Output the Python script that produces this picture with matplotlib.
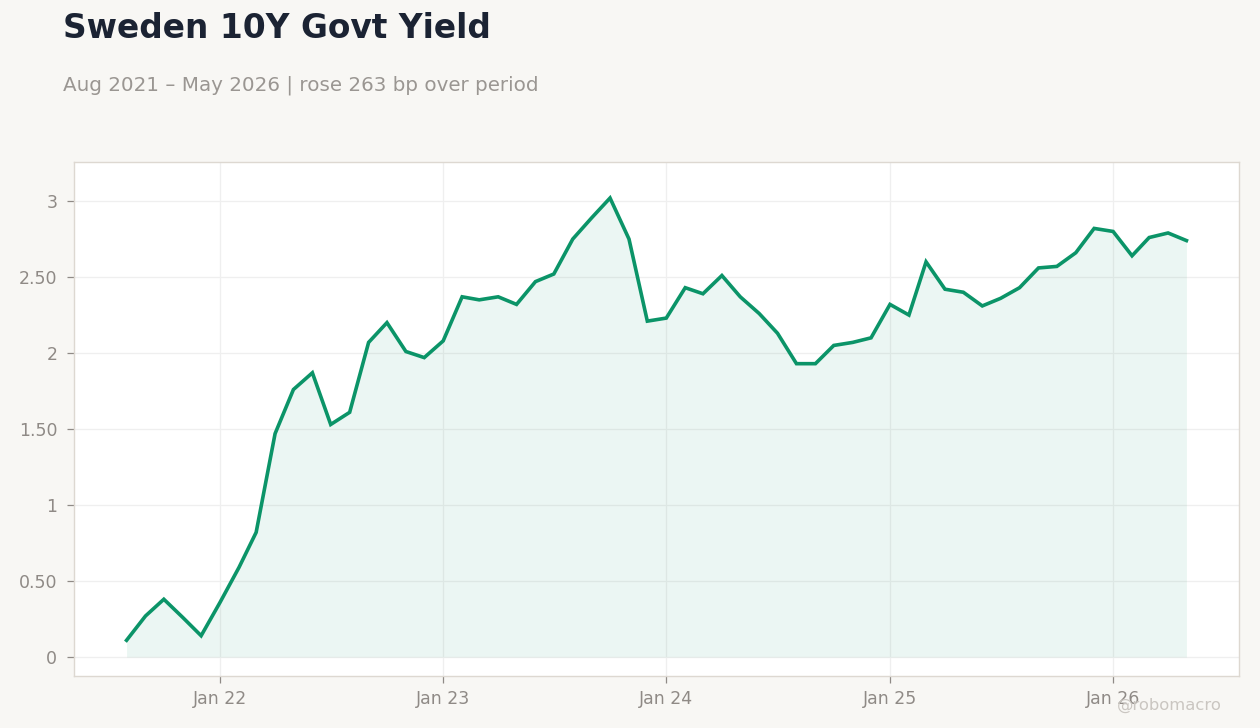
"""
Sweden 10Y government bond yield, monthly
"""

import datetime as dt

import numpy as np
import matplotlib
matplotlib.use("Agg")
import matplotlib.pyplot as plt
import matplotlib.dates as mdates
from matplotlib.ticker import FixedLocator, FixedFormatter

plt.rcParams["font.family"] = ["DejaVu Sans"]

# Monthly observations, Aug 2021 .. May 2026
start_year, start_month = 2021, 8
yields = [
    0.11, 0.27, 0.38, 0.26, 0.14,              # Aug-Dec 2021
    0.36, 0.59, 0.82, 1.47, 1.76, 1.87,        # 2022
    1.53, 1.61, 2.07, 2.20, 2.01, 1.97,
    2.08, 2.37, 2.35, 2.37, 2.32, 2.47,        # 2023
    2.52, 2.75, 2.89, 3.02, 2.75, 2.21,
    2.23, 2.43, 2.39, 2.51, 2.37, 2.26,        # 2024
    2.13, 1.93, 1.93, 2.05, 2.07, 2.10,
    2.32, 2.25, 2.60, 2.42, 2.40, 2.31,        # 2025
    2.36, 2.43, 2.56, 2.57, 2.66, 2.82,
    2.80, 2.64, 2.76, 2.79, 2.74,              # Jan-May 2026
]

y_ticks = [0, 0.5, 1, 1.5, 2, 2.5, 3]
y_tick_labels = ["0", "0.50", "1", "1.50", "2", "2.50", "3"]
x_tick_years = [2022, 2023, 2024, 2025, 2026]
x_tick_labels = ["Jan 22", "Jan 23", "Jan 24", "Jan 25", "Jan 26"]

title = "Sweden 10Y Govt Yield"
subtitle = "Aug 2021 \u2013 May 2026 | rose 263 bp over period"
watermark = "@robomacro"

# Colours
BG = "#f8f7f4"
LINE = "#0b9468"
TITLE_C = "#1b2333"
SUB_C = "#9a9692"
TICK_C = "#8f8a86"
FRAME_C = "#ddd8d1"
GRID_C = "#efefef"


def month_dates(year, month, n):
    out = []
    for i in range(n):
        m = month - 1 + i
        out.append(dt.date(year + m // 12, m % 12 + 1, 1))
    return out


dates = month_dates(start_year, start_month, len(yields))
values = np.array(yields)

W, H = 1260, 728
fig = plt.figure(figsize=(W / 100, H / 100), dpi=100, facecolor=BG)
ax = fig.add_axes([74 / W, 1 - 676 / H, (1239 - 74) / W, (676 - 162) / H])
ax.set_facecolor("white")

ax.fill_between(dates, 0, values, color=LINE, alpha=0.08, linewidth=0)
ax.plot(dates, values, color=LINE, lw=2.6, solid_joinstyle="miter")

# Axis ranges (data span padded ~5% on x)
span = dates[-1] - dates[0]
pad = span * 0.05
ax.set_xlim(dates[0] - pad, dates[-1] + pad)
ax.set_ylim(-0.125, 3.257)

ax.yaxis.set_major_locator(FixedLocator(y_ticks))
ax.yaxis.set_major_formatter(FixedFormatter(y_tick_labels))
x_ticks = [mdates.date2num(dt.date(y, 1, 1)) for y in x_tick_years]
ax.xaxis.set_major_locator(FixedLocator(x_ticks))
ax.xaxis.set_major_formatter(FixedFormatter(x_tick_labels))

ax.grid(True, color=GRID_C, lw=0.9)
ax.set_axisbelow(True)
ax.tick_params(axis="both", colors=TICK_C, labelcolor=TICK_C, labelsize=12.5,
               length=5, width=0.9)
ax.tick_params(axis="y", pad=7)
ax.tick_params(axis="x", pad=5)
for s in ax.spines.values():
    s.set_color(FRAME_C)
    s.set_linewidth(1.0)

fig.text(63 / W, 1 - 28 / H, title, fontsize=23.7, fontweight="bold",
         color=TITLE_C, va="center", ha="left")
fig.text(63 / W, 1 - 85 / H, subtitle, fontsize=14.3, color=SUB_C,
         va="center", ha="left")
fig.text(1222 / W, 1 - 705 / H, watermark, fontsize=11.8, color="#cac6c1",
         va="center", ha="right")

fig.savefig("out.png", dpi=100, facecolor=BG)
plt.close(fig)
